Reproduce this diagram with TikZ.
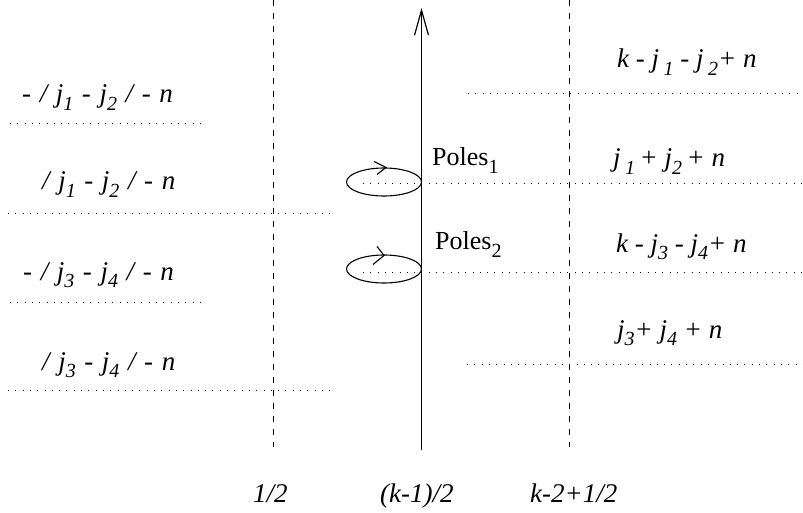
\documentclass[tikz,border=0pt]{standalone}
\usepackage{fontspec}
\setmainfont{Liberation Serif}
\usetikzlibrary{arrows.meta,shapes.geometric}
\newcommand\sbt[1]{\raisebox{-0.28em}{\fontsize{20}{20}\selectfont #1}}
\begin{document}
\begin{tikzpicture}[x=1pt,y=-1pt,
  lab/.style={anchor=base west,inner sep=0pt,font=\fontsize{27}{30}\selectfont\itshape},
  wlab/.style={lab,execute at begin node={\spaceskip=8.6pt\relax}},
  rlab/.style={anchor=base west,inner sep=0pt,font=\fontsize{26}{30}\selectfont},
  guide/.style={line width=0.9pt,dash pattern=on 0.9pt off 6.4pt},
  vdash/.style={line width=1pt,dash pattern=on 6pt off 7pt},
  loop/.style={ellipse,draw,line width=1.1pt,minimum width=75pt,minimum height=28pt,inner sep=0pt},
  chev/.style={line width=1.1pt}]
\useasboundingbox (0,0) rectangle (803,513);
% vertical lines
\coordinate (d1t) at (273.5,0); \coordinate (d1b) at (273.5,447);
\coordinate (d2t) at (569.5,0); \coordinate (d2b) at (569.5,447);
\coordinate (axb) at (421.5,450); \coordinate (axt) at (421.5,8);
\draw[vdash] (d1t) -- (d1b);
\draw[vdash] (d2t) -- (d2b);
\draw[line width=1.6pt,-{Straight Barb[length=25pt,width=14pt,line width=1.2pt]}] (axb) -- (axt);
% dotted guides
\draw[guide] (10,123) -- (200,123);
\draw[guide] (8,213) -- (333,213);
\draw[guide] (10,302) -- (200,302);
\draw[guide] (8,390) -- (333,390);
\draw[guide] (468,93) -- (803,93);
\draw[guide] (363,183) -- (803,183);
\draw[guide] (363,272) -- (803,272);
\draw[guide] (467,364) -- (803,364);
% contours
\node[loop] (e1) at (384,182) {};
\node[loop] (e2) at (384,269) {};
\draw[chev] ([xshift=-10pt,yshift=6pt]e1.north) -- ([xshift=2pt]e1.north) -- ([xshift=-7pt,yshift=-7pt]e1.north);
\draw[chev] ([xshift=-7pt,yshift=8pt]e2.north) -- ([xshift=0pt,yshift=-1pt]e2.north) -- ([xshift=-11pt,yshift=-10pt]e2.north);
% labels
\node[wlab] (l1) at (22,103) {- / j\sbt{1} - j\sbt{2} / - n};
\node[wlab] (l2) at (42,190) {/ j\sbt{1} - j\sbt{2} / - n};
\node[wlab] (l3) at (23,280) {- / j\sbt{3} - j\sbt{4} / - n};
\node[wlab] (l4) at (42,370) {/ j\sbt{3} - j\sbt{4} / - n};
\node[lab] (r1) at (617,68) {k - j\,\sbt{1} - j\,\sbt{2}+ n};
\node[lab] (r2) at (613,167) {j\,\sbt{1}\,+ j\sbt{2}\,+ n};
\node[lab] (r3) at (616,252) {k - j\sbt{3} - j\sbt{4}+ n};
\node[lab] (r4) at (617,338) {j\sbt{3}+ j\sbt{4} + n};
\node[rlab] (p1) at (432,166) {Poles\sbt{1}};
\node[rlab] (p2) at (435,250) {Poles\sbt{2}};
\node[lab] (b1) at (253,502) {1/2};
\node[lab] (b2) at (380,502) {(k-1)/2};
\node[lab] (b3) at (530,502) {k-2+1/2};
\end{tikzpicture}
\end{document}
